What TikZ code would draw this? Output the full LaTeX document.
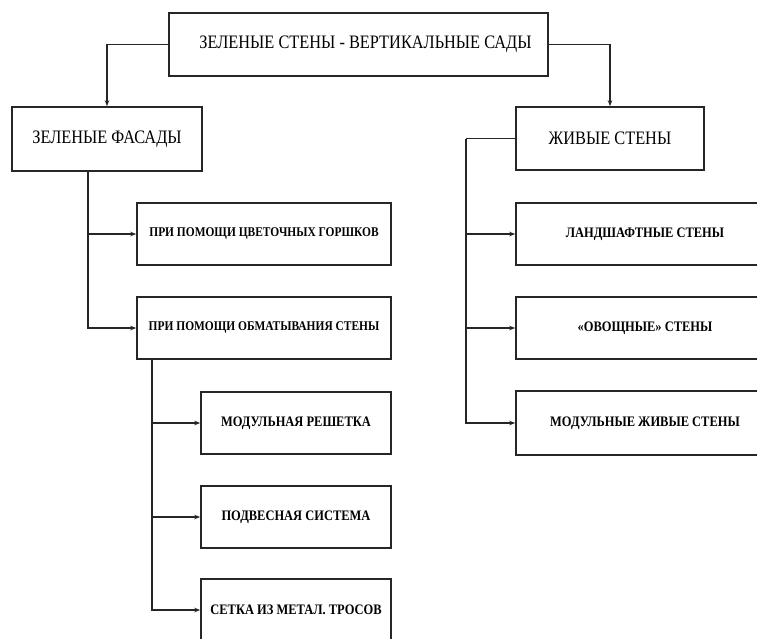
\documentclass[tikz,border=0pt]{standalone}
\usepackage{fontspec}
\setmainfont{Liberation Serif}
\newfontfamily\condf[FakeStretch=0.86]{Liberation Serif}
\usetikzlibrary{arrows.meta}
\tikzset{
  box/.style={draw=black!85, line width=1.6pt, fill=white, inner sep=0pt, font=\condf\fontsize{19}{21}\selectfont},
  smallbox/.style={box, font=\condf\bfseries\fontsize{14.5}{16}\selectfont},
  tinybox/.style={box, font=\condf\bfseries\fontsize{13.3}{15}\selectfont},
  conn/.style={draw=black!85, line width=1.3pt},
  arr/.style={conn, -{Stealth[length=6pt,width=4.5pt]}}
}
\begin{document}
\begin{tikzpicture}[x=1pt,y=-1pt]
\clip (0,0) rectangle (757,638);
\fill[white] (0,0) rectangle (757,638);
\node[box, minimum width=379pt, minimum height=63pt] (top) at (358.5,44.5) {\hspace*{14pt}ЗЕЛЕНЫЕ СТЕНЫ - ВЕРТИКАЛЬНЫЕ САДЫ};
\node[box, minimum width=190pt, minimum height=64pt] (zf) at (107,139) {ЗЕЛЕНЫЕ ФАСАДЫ};
\node[box, minimum width=188pt, minimum height=63pt] (zs) at (610,138.5) {ЖИВЫЕ СТЕНЫ};
\node[tinybox, minimum width=254pt, minimum height=62pt] (p1) at (264,234) {ПРИ ПОМОЩИ ЦВЕТОЧНЫХ ГОРШКОВ};
\node[tinybox, minimum width=254pt, minimum height=62pt] (p2) at (264,328) {ПРИ ПОМОЩИ ОБМАТЫВАНИЯ СТЕНЫ};
\node[smallbox, minimum width=190pt, minimum height=62pt] (m1) at (296,423) {МОДУЛЬНАЯ РЕШЕТКА};
\node[smallbox, minimum width=190pt, minimum height=62pt] (m2) at (296,517) {ПОДВЕСНАЯ СИСТЕМА};
\node[smallbox, minimum width=190pt, minimum height=62pt] (m3) at (296,610) {СЕТКА ИЗ МЕТАЛ. ТРОСОВ};
\node[smallbox, minimum width=258pt, minimum height=62pt] (r1) at (645,234) {ЛАНДШАФТНЫЕ СТЕНЫ};
\node[smallbox, minimum width=258pt, minimum height=62pt] (r2) at (645,328) {«ОВОЩНЫЕ» СТЕНЫ};
\node[smallbox, minimum width=258pt, minimum height=64pt] (r3) at (645,423) {МОДУЛЬНЫЕ ЖИВЫЕ СТЕНЫ};
% connectors
\draw[arr] (top.west) -| (zf.north);
\draw[arr] (top.east) -| (zs.north);
\coordinate (a) at (88,171);
\draw[arr] (a) |- (p1.west);
\draw[arr] (a) |- (p2.west);
\coordinate (b) at (466,138.5);
\draw[conn] (zs.west) -- (b);
\draw[arr] (b) |- (r1.west);
\draw[arr] (b) |- (r2.west);
\draw[arr] (b) |- (r3.west);
\coordinate (c) at (152,359);
\draw[arr] (c) |- (m1.west);
\draw[arr] (c) |- (m2.west);
\draw[arr] (c) |- (m3.west);
\end{tikzpicture}
\end{document}
